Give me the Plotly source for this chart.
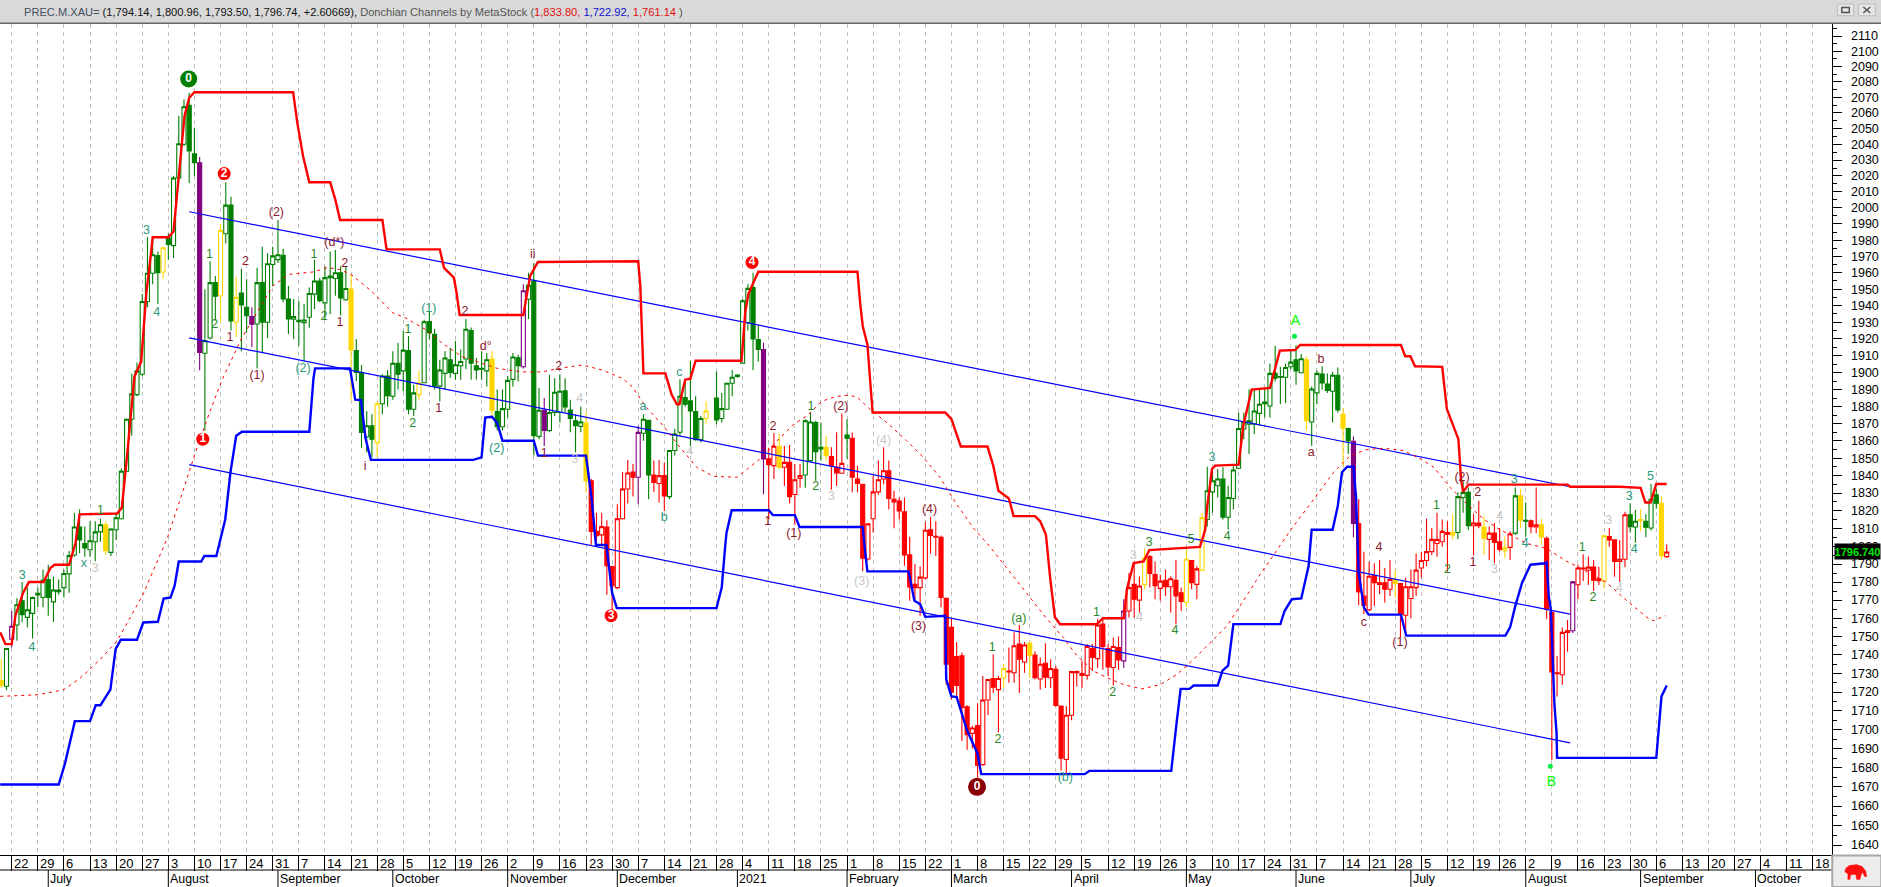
import math
import plotly.graph_objects as go

# ---- price bars: index 0 is Monday 22 June 2020, one bar per weekday, 25 Dec 2020 has no bar
holiday_bars = [134]
bar_kind = list(
    "YgpgGggGgG" "gggggGGggg" "Yggggggggg" "GyGgggGGPg" "gGygGyGGPg"
    "GgggGGgGgg" "gGgGgGgYGG" "gGygGgGgGg" "ygGGggGggg" "GGGgYGgggG"
    "pgGgPgggGG" "GgYRRrRRrr" "rRpgGRrRgg" "gGGGgy" "Gggg" "GggGGPRrYr"
    "RrrggGGYRR" "rGRRRrrrrR" "RRRRRrrRrR" "RRRRRrRrrR" "ryRrRrYRrR"
    "rRRrrRRrRr" "RRrRprRryR" "RrRrRRyRry" "gggGgggggg" "gGgGGggGgY"
    "ggGGgGYGPR" "RrRRRrYRrr" "rrrrrrRygg" "GrRYrRRyrg" "YGRrYRRRrr"
    "prRrRryRRr" "rGgYGgGYr"
)
body_top = [
 1726.2,1743.5,1755.6,1767.4,1769.6,1764.7,1771.4,1773.8,1781,1781.4,
 1775.6,1775.6,1784.7,1794.7,1810.8,1810.8,1801.5,1803,1808,1812,
 1812,1809.6,1816,1842.5,1872.6,1887.4,1901,1942.5,1959.7,1971,
 1970.6,1975.3,1981.3,2018.7,2040.4,2064,2065,2034,2028.3,1919,
 1954,1954,1986,2001.7,2001.7,1945,1947.6,1939,1933.4,1954,
 1954,1965.5,1970.3,1971,1970.7,1944,1933.4,1931.2,1931.4,1947.4,
 1955,1955,1957,1958,1960,1960,1950.4,1950,1913,1900,
 1868.8,1868.8,1881.6,1898,1898,1905.5,1905.5,1913.3,1913,1888,
 1893.8,1930.3,1930.5,1922.8,1901.5,1908.6,1907.6,1904.6,1906.6,1925.8,
 1925,1904,1902.5,1907.6,1908,1877,1878.8,1895.4,1909.2,1908.8,
 1949,1952.4,1955,1877.8,1877.8,1876.5,1888.4,1889,1889.3,1878,
 1871.7,1871,1870.3,1837,1808.3,1811,1810.8,1788.6,1815.4,1832.3,
 1841.5,1842,1864.9,1872.6,1872,1840.3,1840,1840,1854.4,1864,
 1886,1885.3,1883.3,1877,1873,1877.4,1885,1878.8,1893.7,1897.2,
 1898.5,1943,1950.5,1951,1919.7,1913.7,1849.6,1856.9,1856.9,1847.6,
 1847.6,1837.6,1840,1871.7,1871,1870.7,1856.3,1856.3,1851,1844.8,
 1847,1863.4,1861.5,1838,1835,1812.5,1830.7,1837.6,1842.8,1842.8,
 1826.5,1825.5,1819.4,1795.1,1778.7,1782.7,1808.9,1809.2,1805.5,1805,
 1771,1755,1739.2,1739.5,1712.2,1700.9,1702.2,1715.8,1726.8,1727.3,
 1727.3,1732.6,1731.3,1745,1746,1745.4,1746.4,1739.9,1735,1735.5,
 1732.6,1732.2,1712.6,1707.6,1731,1731.1,1730,1744.6,1743.5,1756.3,
 1756.8,1743.5,1744.6,1744,1764,1776.9,1778.7,1777.8,1793.3,1794.2,
 1784.2,1780.5,1781,1781.8,1780.9,1774,1792.7,1792,1787.3,1816,
 1831.3,1837,1838,1838,1827.5,1843.2,1867.2,1871,1871.7,1877.4,
 1881.3,1882.6,1899.5,1899.5,1897.6,1903,1906.2,1907.6,1908.2,1907.6,
 1890.3,1899.5,1899.1,1893.2,1898.4,1898.4,1875.5,1867.2,1859.7,1812.7,
 1772.3,1783.2,1783.6,1779.6,1779.6,1781.4,1781.4,1779.2,1777.4,1777.4,
 1786.6,1792,1796.9,1803.8,1803.8,1808.3,1807.7,1807.7,1828,1830.4,
 1830.4,1813,1813,1810.8,1807.3,1807.3,1802.5,1799,1807,1828.4,
 1828.4,1814.6,1814.2,1812,1812,1804.4,1763.2,1730.4,1752.3,1753.2,
 1780.1,1787.8,1787.8,1788.3,1788.3,1781.8,1805.8,1805.4,1803.5,1792.7,
 1817.7,1817.7,1814,1815,1814,1826.5,1829,1824.2,1796.74,
]
body_bottom = [
 1723.7,1723.1,1748.6,1756.3,1762,1760.5,1762.7,1772.9,1771.4,1771.4,
 1769,1774.7,1776.9,1784.5,1795,1803.5,1799,1798,1802.5,1808,
 1797.5,1796.5,1809.2,1815.4,1842.5,1872.6,1887,1899,1942.5,1959.7,
 1960,1960.5,1977.3,1976.6,2018.7,2040,2035.8,2028.3,1912,1911.5,
 1920.6,1945.7,1946,1984,1930.8,1930,1940.5,1934,1928.8,1929,
 1930,1930,1965,1968,1944,1932,1931.8,1930.4,1929.8,1933,
 1947,1943,1941.7,1957,1956.5,1944.6,1943.6,1913.5,1900,1864.9,
 1862.4,1861,1859,1881.6,1886.4,1886,1899,1901,1878.4,1878.4,
 1887,1894,1923.8,1892,1892,1899.5,1900,1899.5,1904,1908,
 1905.6,1901.5,1902,1901,1877.8,1868.2,1868.2,1878.4,1896,1904,
 1903.4,1943.9,1863,1862.6,1866,1866,1876.5,1876.5,1879.7,1873,
 1868.8,1868.4,1837,1808.3,1805.8,1806.3,1789,1778,1776.9,1815.4,
 1832.3,1839,1839,1864.4,1840.3,1836,1835.5,1828.4,1828,1854.4,
 1865,1881.3,1877.4,1860.7,1860.7,1873,1872.2,1873,1878.4,1893.7,
 1897.7,1905.6,1929.9,1920,1913.7,1849.6,1846.3,1845.7,1844.8,1844.8,
 1828,1829.2,1838.4,1840.3,1848.6,1853.8,1855.3,1851.5,1845.7,1841.5,
 1841.3,1861.5,1839,1835.5,1793.3,1792.8,1815.4,1830.7,1838,1826.9,
 1825,1819.8,1795.1,1777.3,1776.9,1776.9,1782.3,1806,1805,1771.4,
 1735,1720,1723.5,1711.8,1697.3,1698,1681.2,1681.6,1715.8,1722.6,
 1721.3,1727.7,1730.8,1730.4,1737.7,1736.2,1739.9,1727.7,1727,1728,
 1727.7,1712.8,1684.9,1684.3,1707.6,1730.4,1729,1729,1738.6,1738,
 1744.6,1733.5,1733.2,1737.3,1736.8,1764,1770.5,1770,1778.7,1784.7,
 1778,1776.5,1777.4,1777.4,1772.3,1769.2,1768.7,1779.6,1778.7,1786.6,
 1815,1830.7,1834.2,1816.3,1816.3,1826.9,1844.2,1866.9,1869.7,1869.7,
 1876,1881.7,1880.3,1896.6,1897.2,1897.2,1903.4,1901,1899.9,1871.7,
 1871,1888,1893.8,1889.5,1889,1878,1867.4,1860,1812.7,1774.5,
 1767.2,1764.7,1779.6,1778.7,1776,1776,1779.2,1762.3,1761.7,1770.9,
 1776.9,1787.8,1792,1796.9,1801.5,1802.5,1806.7,1806.3,1807.7,1827.5,
 1811.5,1811.5,1811.5,1804.4,1803.8,1802,1798.2,1797.4,1799.3,1807.3,
 1814.6,1814,1811,1810.8,1805,1765,1730.8,1729.9,1729.3,1752.3,
 1753.2,1778.5,1787.2,1786.5,1781,1780.7,1780.7,1803.5,1791.4,1791.4,
 1792.7,1811,1810.8,1814.4,1810.6,1810.2,1824.2,1794.7,1794.14,
]
bar_high = [
 1737.7,1743.5,1764,1771,1780,1777,1772,1777,1787,1789.6,
 1783,1781.4,1787,1797.3,1818.8,1820.7,1811,1814,1814,1815.4,
 1814,1810,1818.8,1844,1873,1899.5,1906,1947,1981.8,1981,
 1973,1976,1984,2020,2058,2068.7,2073,2050.6,2032,1950,
 1967,1958,1990,2016,2007,1957.6,1962.5,1956,1939,1963,
 1976,1972,1976,1992.5,1974.7,1952,1944,1943,1941,1951,
 1968,1957,1964,1973,1974,1964,1964,1959,1920,1904.5,
 1877.4,1875.5,1883,1899,1901.5,1912.6,1917.7,1924.8,1921.8,1892.8,
 1901,1931.5,1937,1926,1907.6,1912.6,1914.7,1918.7,1913.7,1932,
 1926.8,1908.6,1912.6,1911.6,1912.6,1890,1890,1898,1911.6,1910.6,
 1953,1960,1966,1891,1885,1898.5,1896.6,1899,1896.6,1884,
 1875.5,1880,1877,1838,1818.8,1818.8,1814.6,1789,1823.6,1842,
 1849,1846.7,1868.8,1875.5,1872,1848.6,1849,1847.6,1854.4,1867,
 1896,1896,1907,1886,1874.5,1883,1900.7,1888,1894,1901.5,
 1899,1944,1953,1960,1928,1917.7,1856,1864.6,1864,1857,
 1857.6,1846.7,1846.7,1872.6,1876.4,1871.7,1870.7,1863,1856.3,1865,
 1875.9,1872.6,1864.9,1845.7,1835,1812.5,1839.9,1848.6,1856.3,1848.6,
 1831.3,1827.5,1827.5,1805.3,1790,1788.7,1813.6,1816.6,1814,1806,
 1771.5,1760,1747,1741.3,1713,1702,1714,1728.6,1726.8,1740.4,
 1728.6,1735,1744,1752.3,1756.3,1747,1747.7,1742,1738.6,1746.4,
 1737.7,1734,1712.6,1712.6,1731.3,1731.8,1736.8,1745.9,1745.9,1759.6,
 1760.5,1745.9,1749.5,1750,1770.5,1785,1791,1783,1798.7,1795,
 1791.4,1784,1786.9,1783.2,1792.3,1776.9,1798.7,1792.3,1788.7,1818.8,
 1845,1844.8,1843.8,1844.8,1834.2,1845.7,1876.5,1876.5,1890,1889.9,
 1889.9,1890.3,1905.3,1916,1903.4,1905.3,1913,1916.2,1911,1909.5,
 1891.8,1901.4,1903.7,1899.5,1900.5,1903,1878.8,1867.8,1862.5,1826.5,
 1796.9,1791.4,1790.5,1792.3,1787.8,1792.3,1786.5,1779.2,1782.3,1786.9,
 1795.9,1796.9,1815.4,1810.2,1818.8,1815,1814,1817.9,1830.4,1837,
 1833.2,1817.9,1825.6,1816.9,1811,1813,1810.2,1805.4,1808.3,1833.2,
 1832.3,1824.6,1815,1833.2,1815.4,1805.4,1764,1739.5,1755,1759,
 1780.5,1789.6,1795.4,1794.2,1792.3,1788.5,1806.3,1810.2,1803.5,1803.5,
 1819.4,1824.2,1820.4,1820.7,1817.9,1835.2,1832.3,1828.4,1800.96,
]
bar_low = [
 1722.2,1721,1744,1747.7,1757.8,1755,1749,1766,1766,1761.4,
 1758,1773,1771.4,1774,1794,1796,1794,1794,1791.5,1802.5,
 1795,1794.5,1803.5,1815,1842,1863,1886,1898,1939,1953,
 1941,1956.5,1968,1969,2016,2039,2015.5,2020,1901.4,1866,
 1919.6,1931,1930,1978,1925,1921,1912.6,1923.7,1915,1902.4,
 1912,1920.6,1952,1966,1942,1923,1920,1916,1906.5,1926.7,
 1938,1942,1932,1935,1946,1934,1943,1883.6,1895,1856,
 1853.4,1850.5,1850.5,1875.5,1880,1884,1890,1889,1875.5,1874.5,
 1884,1893.7,1919.7,1890,1883,1890,1897,1895.7,1895.7,1902,
 1895.7,1895.7,1895.7,1891.8,1874.5,1866,1866,1873.6,1891.8,1894.7,
 1902.4,1932,1851.5,1861,1857,1865,1874.5,1870.7,1876.5,1865,
 1853.4,1865,1830.4,1800.6,1800.6,1800.6,1773,1764,1776,1815,
 1824,1828,1823.6,1860,1826.5,1830.4,1824.6,1819.8,1826.5,1851.5,
 1863,1880,1857,1860,1859,1870,1869.7,1870.7,1878,1886,
 1897,1905,1925,1901.5,1906.6,1829.4,1815,1838,1843.8,1834,
 1824,1812,1833,1833,1848,1837,1848.6,1848.6,1831.9,1834,
 1841,1849.6,1830.4,1830.4,1786,1792,1807.7,1829,1835,1820.7,
 1810,1815,1789,1769.6,1769.6,1761.4,1781.4,1795.7,1794.5,1766,
 1724,1716,1717,1694,1689.4,1690,1674.9,1681,1707.6,1719.5,
 1698.5,1722.2,1725,1725,1719.5,1730.4,1727.7,1726.8,1721.3,1722.2,
 1722.2,1712.2,1678.5,1677,1705,1723,1722.2,1726.8,1731.3,1733,
 1732,1728.6,1723.5,1732,1733,1760.5,1760.5,1763,1776,1776.9,
 1770.5,1769.6,1772.3,1763,1756.8,1764,1766,1776,1770.5,1786,
 1811,1818.8,1827.5,1815,1809.2,1820.7,1843.8,1861,1852.4,1864,
 1868.8,1873.6,1873.6,1894.7,1881.3,1882,1902,1892.8,1899.5,1866,
 1857.2,1881.3,1890,1888,1870.7,1876.5,1845.7,1852.4,1805,1767.2,
 1762.3,1764,1766.8,1773.2,1768.7,1772.3,1771.4,1749.5,1750.5,1760,
 1772.3,1782.3,1788.7,1795,1794,1799.6,1786,1803.8,1803.8,1818.8,
 1809.2,1794.9,1810,1795,1792.3,1790.5,1796.9,1793.3,1792.3,1806.3,
 1810,1805.4,1807.3,1807.3,1800.6,1759.6,1684,1717.7,1724,1741.7,
 1751.9,1770.5,1780.5,1778.3,1775,1778.3,1776.5,1799.6,1782.9,1780,
 1788.2,1807.7,1801.9,1808.3,1805,1808.8,1821.1,1792.7,1793.5,
]

# ---- Donchian upper band
upper_bar = [-2.2,-1.2,0,0.7,2.2,3.3,6.1,7.4,8.2,11,12.2,13,20.2,21.1,22.1,23,23.5,24.8,25.8,26.8,27,30,31,32,33.1,34,35,53.9,54.7,55.8,57,61,62,62.9,71,71.8,82,82.8,84.7,85.2,85.8,98,99.3,100.8,120,120.4,120.9,121,125.2,126.4,127.4,127.9,129,130,131,139.8,140.5,141.1,143,162,162.5,163,163.9,164.3,164.9,178.8,180,181.8,186.9,188,189,191,191.9,196,197,198.1,198.9,199.8,200.8,207.8,209,213,213.6,214.9,216.8,217.9,227.6,228.6,229,229.9,230.5,235,235.9,237.5,241,242.9,245.8,246.8,266.1,266.9,267.9,268.8,274,274.9,276.5,277.1,277.6,278,279,298,298.5,308,312,312.9,313.9,315,317]
upper_val = [1752.3,1745.9,1745.9,1761.4,1774.1,1780,1780,1787.8,1789.6,1789.6,1801.5,1817.9,1818.4,1821.7,1851.5,1882.2,1897.5,1906.5,1948,1975.3,1981.8,1981.8,1985.4,2019.8,2058.1,2069.8,2073.4,2073.4,2053.8,2032.6,2016,2016,2005,1992.5,1992.5,1974.3,1974.3,1963,1957,1948,1934.4,1934.4,1958,1966.6,1967,1952,1911.6,1899.5,1899.5,1887,1881.3,1881.3,1895.8,1896.4,1907,1907,1936,1947,1960.6,1960.6,1942,1927.8,1916.7,1899.5,1876.5,1876.5,1872.6,1856.7,1856.7,1845.7,1831.3,1826.9,1816.9,1816.9,1814,1806.4,1782.4,1760.7,1756.7,1756.7,1760,1760,1776,1790.5,1791.4,1797.8,1799.6,1809.2,1822.7,1843.8,1845.7,1846.3,1868.8,1889.9,1890.9,1913,1913.4,1916.4,1916.4,1909.7,1909.7,1903.7,1903.4,1878.4,1864.9,1861,1838,1830.7,1834.8,1834.8,1833.6,1833.6,1833,1824.6,1824.6,1835.2,1835.2]
# ---- Donchian lower band
lower_bar = [-2.2,9,10.2,12.1,15,16.1,17,18.9,19.9,20.9,24,25.2,28,29.1,30.4,31.2,32,36.3,36.9,39.2,40.9,41.9,43,44.1,57,57.8,58.1,64.8,65.8,66.9,67.8,68.8,88.4,90,90.7,92,93,94,100,100.8,110,111.1,111.9,113.9,115,115.9,135,136,136.6,136.9,137.9,145,145.8,150,150.9,163,163.5,163.9,171.8,172.9,174,175,178.8,179,180,181,183,185,185.7,205.5,206.4,222.1,223.1,223.9,225.6,226.4,231,231.9,233,234,243,243.8,245.2,247,248.4,249,253,254,254.8,255.8,257,257.5,258,259,259.9,266.1,267.1,286.1,287,288,289.3,290.9,293.7,294,294.4,294.8,295.5,295.9,296,315,315.5,316,317]
lower_val = [1671.2,1671.2,1682.1,1704.5,1704.5,1713,1713,1721.3,1743.2,1748.3,1748.3,1757.7,1758.1,1770.9,1771.4,1777.8,1791.4,1791.4,1794.5,1794.5,1815,1841.9,1863,1865.3,1865.3,1896.6,1902.5,1902.5,1884,1883.8,1861,1849,1849,1850.5,1873.6,1874,1870.3,1860.1,1860.1,1851.5,1851.5,1826.5,1800.6,1800.6,1774.1,1765.6,1765.6,1776.9,1797.9,1807.3,1820.2,1820.2,1817.5,1817.5,1810.8,1810.8,1796,1785.9,1785.9,1769.6,1767.8,1760.8,1761.4,1726.8,1717.7,1717.3,1699.5,1687.3,1676.6,1676.6,1678.3,1678.3,1703,1721.7,1721.7,1723.5,1723.5,1731.5,1734.2,1756.8,1756.8,1764,1770.5,1770.9,1788.7,1809.2,1809.2,1822.7,1841.9,1845.1,1845.1,1827.5,1785,1766,1762,1762,1750.5,1750.5,1755,1766.8,1779.6,1789.6,1790.4,1790.9,1772.3,1765,1713.1,1698.6,1685.1,1685.1,1701.3,1717.7,1723.5]
# ---- dashed moving average
average_bar = [-2.2,5.2,10,13.2,17,20.2,23.4,25.3,27.2,29.8,32.6,35.2,38,40.3,43.9,47.8,50,53.1,57.8,60.5,62.8,65,69.2,73,75.4,79.3,82.4,86.2,90,93.1,97.8,101.6,104.7,109.3,113.2,117,118.8,121.6,124.8,128,131.2,134.4,138.9,140.9,143.7,146.6,149.8,152.3,155.2,158.1,160,161.9,164.4,167.6,171.4,174.6,177.8,181,184.2,187.4,190.6,194.4,198.3,201.4,204,207.2,209.8,213,216.5,220,223.2,226.4,229.6,232.8,236,239.2,241.7,245,249.4,253.2,256.4,259.6,262.8,266.6,269.8,272.4,275.5,278.8,282,285.1,290.2,294,297.9,299.8,305.5,309.4,313.2,314.4,316.8]
average_val = [1717.7,1718.6,1721.3,1727.7,1737.7,1747.7,1764,1774,1786.9,1804.4,1829.4,1853.4,1877.4,1895.7,1919.6,1940,1952,1959,1960.5,1963.2,1962,1959,1948,1935.7,1932.7,1925.6,1917.6,1909.5,1905.4,1902.4,1900.4,1900.4,1902.4,1904.5,1901.4,1896.5,1891.8,1879.3,1868.8,1856.3,1844.8,1839.6,1839,1843.8,1850.5,1860,1869.7,1874.5,1883.2,1886,1886.6,1885.7,1878.4,1870.7,1860.1,1850.5,1839,1823.6,1810.2,1799.6,1787.8,1774,1759.6,1749.5,1739.7,1731.3,1727.7,1724,1721.7,1724,1729.5,1737.7,1746.8,1755.9,1770,1784.6,1795,1809.2,1826.5,1841.9,1851.5,1855,1855.7,1854.4,1849.6,1844.8,1833.2,1823.6,1815,1809.2,1801.5,1798.7,1791.4,1788.7,1779.6,1769.6,1760.5,1758.7,1761.4]
# ---- regression channel (start bar, end bar, start price, end price)
channel_bars = [34, 298.5]
channel_upper = [1997.6, 1833.6]
channel_middle = [1920.6, 1762.3]
channel_lower = [1846.3, 1693]

# ---- wave labels
GREEN, DRED, GRAY, TEAL = "#2a8a2a", "#8b1a30", "#c8c8c8", "#2a9a80"
label_text = ["3","4","x","3","1","3","4","1","2","1","2","(2)","(1)","(2)","1","2","(d*)","2","1","1","(1)","2","1","2","d°","ii","2","4",
              "i","1","(2)","3","a","b","c","4","2","1","(1)","1","2","3","(2)","(4)","(3)","(3)","(4)","(a)","1","1",
              "2","(b)","2","3","4","3","5","4","4","3","a","b","c","4","(1)","1","2","(2)","2","1","4","3","3","4",
              "1","2","3","4","3","4","5"]
label_bar = [2,3.9,13.8,16,17,25.8,27.8,37.9,38.9,41.8,44.8,50.7,47,55.8,57.9,59.8,61.8,63.8,62.9,75.9,79.9,76.8,81.8,86.8,90.8,99.8,104.8,108.8,
             67.7,102,92.9,107.9,120.9,125,127.9,129.9,145.8,144.8,149.8,153.1,154,157,158.8,167,162.8,173.7,175.8,192.9,187.8,207.8,
             188.9,201.8,210.9,214.8,216,217.9,225.9,222.8,232.8,229.9,248.9,250.8,259,261.9,265.9,272.9,275,277.8,280.8,279.9,285,284,287.8,289.9,
             300.8,302.9,305.9,307.9,309.8,310.8,313.9]
label_price = [1783.6,1744,1790,1787.4,1819.8,1985.8,1935.8,1970.9,1928.7,1920.6,1966.8,1996.6,1898,1902.3,1970.9,1933.4,1978.3,1965.2,1929.4,1925.7,1937.9,1869.6,1878.9,1936.2,1915.2,1970.9,1903.4,1884.6,
               1844.8,1852.5,1855.3,1849,1879.7,1816,1899.9,1853.4,1868.4,1813.5,1806.7,1880,1833.6,1827.9,1880,1860.1,1780,1755.2,1820.4,1759.6,1743.8,1763.2,
               1694.8,1674.5,1719.5,1794.5,1760,1802,1803.5,1753.2,1805,1850.1,1852.8,1907.6,1757.7,1799,1746.3,1823,1786.8,1838.4,1830,1790.9,1816.3,1786.9,1837.5,1801.2,
               1799.2,1771,1814.4,1776,1828,1797.8,1839.4]
label_color = [TEAL,TEAL,TEAL,GRAY,GREEN,TEAL,TEAL,GREEN,GREEN,DRED,DRED,DRED,DRED,TEAL,GREEN,GREEN,DRED,DRED,DRED,GREEN,TEAL,GREEN,DRED,DRED,DRED,DRED,DRED,GRAY,
               DRED,DRED,TEAL,GRAY,TEAL,TEAL,TEAL,GRAY,DRED,DRED,DRED,GREEN,GREEN,GRAY,DRED,GRAY,GRAY,DRED,DRED,GREEN,GREEN,GREEN,
               GREEN,TEAL,GREEN,GRAY,GRAY,GREEN,GREEN,GREEN,GREEN,TEAL,DRED,DRED,DRED,DRED,DRED,GREEN,GREEN,DRED,DRED,DRED,GRAY,GRAY,TEAL,TEAL,
               GREEN,GREEN,GRAY,GRAY,TEAL,TEAL,TEAL]
# ---- circled wave counts
circle_text = ["0","1","2","3","4","0"]
circle_bar = [33.9,36.6,40.7,114.8,141.8,184.9]
circle_price = [2082,1861,2021.5,1761.4,1966.3,1670]
circle_color = ["#008000","#ff0000","#ff0000","#ff0000","#ff0000","#8b0000"]
circle_size = [17,13,13,13,13,18]
# ---- lime A / B markers
lime_text = ["A","B"]
lime_text_bar = [245.9,294.9]
lime_text_price = [1930.3,1672]
lime_dot_bar = [245.7,294.7]
lime_dot_price = [1921.6,1680.7]

# ---- axis labels
week_labels = ["22","29","6","13","20","27","3","10","17","24","31","7","14","21","28","5","12","19","26","2","9","16","23","30","7","14","21","28","4","11","18","25","1","8","15","22","1","8","15","22","29","5","12","19","26","3","10","17","24","31","7","14","21","28","5","12","19","26","2","9","16","23","30","6","13","20","27","4","11","18"]
month_labels = ["July","August","September","October","November","December","2021","February","March","April","May","June","July","August","September","October"]
month_bars = [7,30,51,73,95,116,139,160,180,203,225,246,268,290,312,334]
price_ticks = list(range(1640, 2120, 10))
price_minor = list(range(1645, 2120, 10))

# ---- page geometry (figure pixels)
W, H = 1881, 887
PLOT_L, PLOT_R, PLOT_T, PLOT_B = 0, 1831.7, 24, 855
PX_PER_BAR = 5.22
GRID0 = 11.7
x_range = [(PLOT_L - GRID0) / PX_PER_BAR, (PLOT_R - GRID0) / PX_PER_BAR]
PX_PER_LOG = 7391.0
y_range = [math.log10(1640) - (PLOT_B - 845) / PX_PER_LOG, math.log10(2110) + (36 - PLOT_T) / PX_PER_LOG]

def px(x):
    return (x - PLOT_L) / (PLOT_R - PLOT_L)
def py(y):
    return (PLOT_B - y) / (PLOT_B - PLOT_T)

bar_index = [i for i in range(-2, 318) if i not in holiday_bars]
assert all(len(a) == len(bar_index) for a in (bar_kind, body_top, body_bottom, bar_high, bar_low)), \
    [len(bar_index), len(bar_kind), len(body_top), len(body_bottom), len(bar_high), len(bar_low)]

COLORS = {"g": "#008000", "r": "#ff0000", "y": "#ffd700", "p": "#800080"}
fig = go.Figure()
for key, col in COLORS.items():
    idx = [n for n, k in enumerate(bar_kind) if k.lower() == key]
    opens, closes = [], []
    for n in idx:
        if bar_kind[n].islower():
            opens.append(body_bottom[n]); closes.append(body_top[n])
        else:
            opens.append(body_top[n]); closes.append(body_bottom[n])
    fig.add_trace(go.Candlestick(
        x=[bar_index[n] for n in idx], open=opens, close=closes,
        high=[bar_high[n] for n in idx], low=[bar_low[n] for n in idx],
        increasing=dict(line=dict(color=col, width=1.1), fillcolor="white"),
        decreasing=dict(line=dict(color=col, width=1.1), fillcolor=col),
        whiskerwidth=0, hoverinfo="skip", showlegend=False))

for vals in (channel_upper, channel_middle, channel_lower):
    fig.add_trace(go.Scatter(x=channel_bars, y=vals, mode="lines", line=dict(color="#0000ff", width=1.2),
                             hoverinfo="skip", showlegend=False))
fig.add_trace(go.Scatter(x=average_bar, y=average_val, mode="lines", line=dict(color="#ff0000", width=1, dash="3px,4px"),
                         hoverinfo="skip", showlegend=False))
fig.add_trace(go.Scatter(x=lower_bar, y=lower_val, mode="lines", line=dict(color="#0000ff", width=2.4),
                         hoverinfo="skip", showlegend=False))
fig.add_trace(go.Scatter(x=upper_bar, y=upper_val, mode="lines", line=dict(color="#ff0000", width=2.4),
                         hoverinfo="skip", showlegend=False))
fig.add_trace(go.Scatter(x=label_bar, y=label_price, text=label_text, mode="text",
                         textfont=dict(family="Liberation Sans", size=12.5, color=label_color),
                         textposition="middle center", hoverinfo="skip", showlegend=False))
fig.add_trace(go.Scatter(x=circle_bar, y=circle_price, text=circle_text, mode="markers+text",
                         marker=dict(color=circle_color, size=circle_size, line=dict(width=0), opacity=1),
                         textfont=dict(family="Liberation Sans", size=12, color="white", weight="bold"),
                         textposition="middle center", hoverinfo="skip", showlegend=False))
fig.add_trace(go.Scatter(x=lime_text_bar, y=lime_text_price, text=lime_text, mode="text",
                         textfont=dict(family="Liberation Sans", size=14, color="#00ff00"),
                         textposition="middle center", hoverinfo="skip", showlegend=False))
fig.add_trace(go.Scatter(x=lime_dot_bar, y=lime_dot_price, mode="markers",
                         marker=dict(color="#00ee44", size=5, symbol="circle"), hoverinfo="skip", showlegend=False))

week_bars = [5 * w for w in range(len(week_labels))]
shapes = []
def line(x0, y0, x1, y1, color="black", width=1, xref="paper"):
    shapes.append(dict(type="line", xref=xref, yref="paper", x0=x0, x1=x1, y0=y0, y1=y1,
                       line=dict(color=color, width=width), layer="above"))
def rect(x0, y0, x1, y1, fill, edge=None, w=1):
    shapes.append(dict(type="rect", xref="paper", yref="paper", x0=px(x0), x1=px(x1), y0=py(y0), y1=py(y1),
                       fillcolor=fill, line=dict(color=edge or fill, width=w), layer="above"))

# time axis rows
line(0, py(870), px(PLOT_R), py(870))
for m in month_bars:
    line(m, py(870), m, py(887), xref="x")
# title strip and window buttons
rect(0, 0, W, 22.5, "#d9d9d9")
line(px(0), py(23.3), px(W), py(23.3), color="#666666", width=1.5)
rect(1837, 4, 1853.5, 15.7, "#e6e6e6", "#bcbcbc")
rect(1841.5, 7.5, 1849, 12.5, "#e6e6e6", "#555555", 1.5)
rect(1858, 4, 1875, 15.7, "#e6e6e6", "#bcbcbc")
line(px(1863), py(7), px(1870), py(13), color="#555555", width=1.5)
line(px(1870), py(7), px(1863), py(13), color="#555555", width=1.5)
# logo box
rect(1832, 855.5, W, H, "#ececec", "#a8a8a8", 2)
logo = [(1845,868),(1849,865),(1856,864),(1862,866),(1866,871),(1867,877),(1864,877),(1862,873),(1860,880),(1856,880),(1855,875),(1851,875),(1850,880),(1847,880),(1847,874),(1844,872)]
shapes.append(dict(type="path", xref="paper", yref="paper", layer="above",
                   path="M " + " L ".join(f"{px(a):.5f},{py(b):.5f}" for a, b in logo) + " Z",
                   fillcolor="#ff1010", line=dict(color="#ffffff", width=0.5)))

annotations = []
for b, t in zip(week_bars, week_labels):
    annotations.append(dict(x=b, xref="x", y=py(863.5), yref="paper", text=t, showarrow=False,
                            xanchor="left", yanchor="middle", xshift=1.5, borderpad=0,
                            font=dict(family="Liberation Sans", size=13, color="black")))
for b, t in zip(month_bars, month_labels):
    annotations.append(dict(x=b, xref="x", y=py(879.5), yref="paper", text=t, showarrow=False,
                            xanchor="left", yanchor="middle", xshift=1, borderpad=0,
                            font=dict(family="Liberation Sans", size=12.4, color="black")))
header = ('<span style="color:#45505c">PREC.M.XAU= </span>'
          '<span style="color:#111111">(1,794.14, 1,800.96, 1,793.50, 1,796.74, +2.60669),</span> '
          '<span style="color:#555555">Donchian Channels by MetaStock</span> '
          '<span style="color:#555555">(</span><span style="color:#e01010">1,833.80,</span> '
          '<span style="color:#1010d0">1,722.92,</span> <span style="color:#e01010">1,761.14</span>'
          '<span style="color:#555555"> )</span>')
annotations.append(dict(x=px(22.5), xref="paper", y=py(11.5), yref="paper", text=header, showarrow=False,
                        xanchor="left", yanchor="middle", borderpad=0,
                        font=dict(family="Liberation Sans", size=11.1)))
annotations.append(dict(x=px(W), xref="paper", y=math.log10(body_top[-1]), yref="y", text="<b>1796.740</b>", showarrow=False,
                        xanchor="right", yanchor="middle", bgcolor="black", width=45, height=15, borderpad=0, align="center",
                        font=dict(family="Liberation Sans", size=11, color="#00e600")))

fig.update_layout(
    width=W, height=H, autosize=False,
    margin=dict(l=PLOT_L, r=W - PLOT_R, t=PLOT_T, b=H - PLOT_B, pad=0),
    paper_bgcolor="white", plot_bgcolor="white",
    boxmode="overlay", boxgap=0.12, boxgroupgap=0.12, showlegend=False, hovermode=False, dragmode=False,
    shapes=shapes, annotations=annotations,
    xaxis=dict(range=x_range, type="linear", rangeslider=dict(visible=False), tickmode="array", tickvals=week_bars,
               showticklabels=False, ticks="outside", ticklen=15, tickwidth=1, tickcolor="black",
               showgrid=True, gridcolor="#c0c0c0", griddash="4px,4px", gridwidth=1, zeroline=False,
               showline=True, linecolor="black", linewidth=1),
    yaxis=dict(type="log", range=y_range, side="right", tickmode="array", tickvals=price_ticks,
               ticktext=[str(v) for v in price_ticks], ticks="outside", ticklen=8.5, tickwidth=1, tickcolor="black",
               tickfont=dict(family="Liberation Sans", size=12.5, color="black"), ticklabelstandoff=7,
               minor=dict(tickmode="array", tickvals=price_minor, ticks="outside", ticklen=3.5, tickwidth=1, tickcolor="black", showgrid=False),
               showgrid=False, zeroline=False, showline=True, linecolor="black", linewidth=1),
)
fig.write_html("out.html", post_script="document.body.style.margin='0';document.body.style.overflow='hidden';",
               config=dict(displayModeBar=False, staticPlot=True))
